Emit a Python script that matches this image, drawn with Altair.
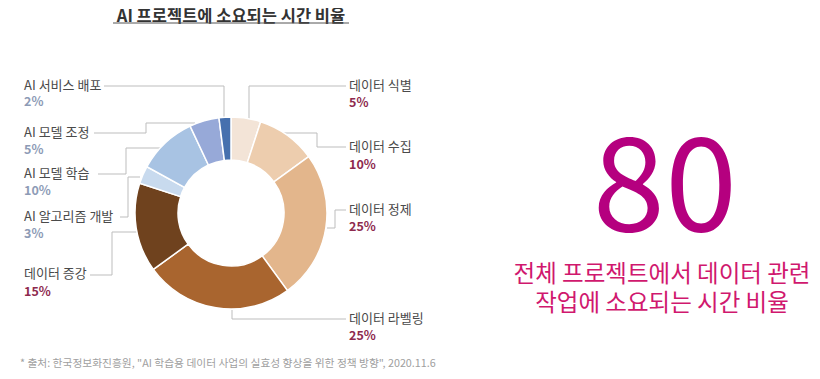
import altair as alt
import pandas as pd

# ---------------- data ----------------
categories = ["데이터 식별", "데이터 수집", "데이터 정제", "데이터 라벨링", "데이터 증강",
              "AI 알고리즘 개발", "AI 모델 학습", "AI 모델 조정", "AI 서비스 배포"]
values = [5, 10, 25, 25, 15, 3, 10, 5, 2]

title_text = "AI 프로젝트에 소요되는 시간 비율"
source_text = '* 출처: 한국정보화진흥원, "AI 학습용 데이터 사업의 실효성 향상을 위한 정책 방향", 2020.11.6'
big_number = "80"
caption_lines = ["전체 프로젝트에서 데이터 관련", "작업에 소요되는 시간 비율"]

# ---------------- styles ----------------
slice_colors = ["#F3E4D7", "#EDCDAE", "#E3B68C", "#A9652F", "#6F421E",
                "#C8DAEE", "#A8C3E3", "#97A9D8", "#4670AE"]
pct_colors = ["#8E2A4E"] * 5 + ["#8D9BB6"] * 4
FONT = "Noto Sans CJK KR"

# ---------------- layout (screen px) ----------------
label_x = [349, 349, 349, 349, 24, 24, 24, 24, 24]
name_y = [86, 147, 210, 319, 274, 217, 174, 133, 86]
pct_y = [103, 165, 227, 336, 292, 234, 191, 150, 102]
leader_pts = [
    [(249, 122), (249, 86), (346, 86)],
    [(283, 133), (317, 133), (317, 147), (346, 147)],
    [(327, 228), (335, 228), (335, 210), (346, 210)],
    [(232, 310), (232, 319), (346, 319)],
    [(90, 275), (112, 275), (112, 232), (137, 232)],
    [(120, 217), (128, 217), (128, 177), (140, 177)],
    [(98, 174), (126, 174), (126, 148), (163, 148)],
    [(94, 133), (146, 133), (146, 123), (195, 123)],
    [(104, 86), (224, 86), (224, 118)],
]
CX, CY = 231, 213
W, H = 804, 362

xs = alt.Scale(domain=[8, 8 + W], range=[0, W])
ys = alt.Scale(domain=[8, 8 + H], range=[0, H])

slices = pd.DataFrame({"cat": categories, "value": values, "idx": list(range(len(categories)))})
labels = pd.DataFrame({
    "cat": categories,
    "pct": [f"{v}%" for v in values],
    "px": label_x,
    "ny": name_y,
    "py": pct_y,
    "pcolor": pct_colors,
})
lines = pd.DataFrame([
    {"cat": c, "seq": i, "px": p[0], "py": p[1]}
    for c, pts in zip(categories, leader_pts) for i, p in enumerate(pts)
])

donut = alt.Chart(slices).mark_arc(innerRadius=53, outerRadius=96, stroke="white", strokeWidth=1.5).encode(
    theta=alt.Theta("value:Q", stack=True),
    order=alt.Order("idx:Q", sort="ascending"),
    color=alt.Color("cat:N", scale=alt.Scale(domain=categories, range=slice_colors), legend=None),
    x=alt.value(CX - 8),
    y=alt.value(CY - 8),
)

leader = alt.Chart(lines).mark_line(color="#BDBDBD", strokeWidth=1).encode(
    x=alt.X("px:Q", scale=xs, axis=None),
    y=alt.Y("py:Q", scale=ys, axis=None),
    detail="cat:N",
    order="seq:Q",
)

names = alt.Chart(labels).mark_text(align="left", baseline="middle", font=FONT, fontSize=13, color="#4A4A4A").encode(
    x=alt.X("px:Q", scale=xs, axis=None),
    y=alt.Y("ny:Q", scale=ys, axis=None),
    text="cat:N",
)

pcts = alt.Chart(labels).mark_text(align="left", baseline="middle", font=FONT, fontSize=12.5, fontWeight="bold").encode(
    x=alt.X("px:Q", scale=xs, axis=None),
    y=alt.Y("py:Q", scale=ys, axis=None),
    text="pct:N",
    color=alt.Color("pcolor:N", scale=None),
)

title = alt.Chart(pd.DataFrame({"t": [title_text]})).mark_text(
    align="center", baseline="top", font=FONT, fontSize=16.5, fontWeight="bold", color="#333333"
).encode(x=alt.value(231 - 8), y=alt.value(1), text="t:N")

underline = alt.Chart(pd.DataFrame({"t": [title_text]})).mark_rule(color="#555555", strokeWidth=1).encode(
    x=alt.value(113 - 8), x2=alt.value(349 - 8), y=alt.value(23 - 8)
)

source = alt.Chart(pd.DataFrame({"t": [source_text]})).mark_text(
    align="left", baseline="middle", font=FONT, fontSize=10.75, color="#A0A0A0"
).encode(x=alt.value(20 - 8), y=alt.value(364 - 8), text="t:N")

big = alt.Chart(pd.DataFrame({"t": [big_number]})).mark_text(
    align="center", baseline="middle", font=FONT, fontSize=130, color="#B5007F"
).encode(x=alt.value(665 - 8), y=alt.value(192 - 8), text="t:N")

caption = alt.Chart(pd.DataFrame({"t": caption_lines, "py": [275, 304]})).mark_text(
    align="center", baseline="middle", font=FONT, fontSize=23.5, color="#D0186E"
).encode(x=alt.value(662 - 8), y=alt.Y("py:Q", scale=ys, axis=None), text="t:N")

chart = alt.layer(leader, donut, names, pcts, title, underline, source, big, caption).properties(
    width=W, height=H, autosize="none", padding=0, background="white"
).configure_view(stroke=None)

chart.save("out.html", embed_options={"renderer": "svg", "actions": False})
